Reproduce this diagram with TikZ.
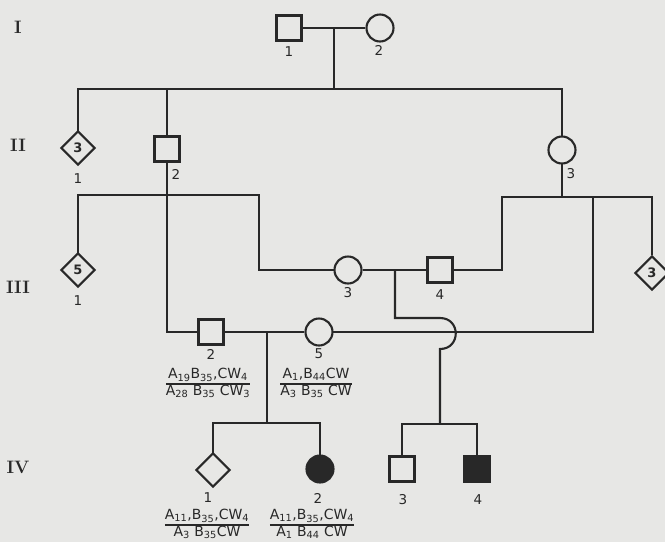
\documentclass[tikz,border=0pt]{standalone}
\usepackage{fontspec}
\setsansfont{DejaVu Sans}
\usetikzlibrary{shapes.geometric}
\definecolor{bg}{RGB}{231,231,229}
\definecolor{ink}{RGB}{40,40,40}
\newcommand\hsub[1]{\textsubscript{#1}}
\setlength\arrayrulewidth{1.4pt}
\begin{document}
\begin{tikzpicture}[x=1pt,y=-1pt,
  ln/.style={draw=ink, line width=2.1pt},
  sq/.style={draw=ink, line width=2.1pt, minimum size=25pt, inner sep=0pt, fill=bg},
  ci/.style={circle, draw=ink, line width=2.1pt, minimum size=27pt, inner sep=0pt, fill=bg},
  di/.style={diamond, draw=ink, line width=2.1pt, minimum size=34pt, inner sep=0pt, fill=bg,
             font=\sffamily\bfseries\fontsize{13}{13}\selectfont, text=ink},
  num/.style={font=\sffamily\fontsize{13.5}{13.5}\selectfont, text=ink, inner sep=1pt},
  gen/.style={font=\bfseries\fontsize{18}{18}\selectfont, text=ink},
  hap/.style={font=\sffamily\fontsize{14}{15}\selectfont, text=ink, inner sep=0pt}]
\fill[bg] (0,0) rectangle (665,542);
\useasboundingbox (0,0) rectangle (665,542);
\clip (0,0) rectangle (665,542);

% generation labels
\node[gen] (gI) at (18,27) {I};
\node[gen] (gII) at (18,145) {II};
\node[gen] (gIII) at (18,287) {III};
\node[gen] (gIV) at (18,467) {IV};

% coordinates for line junctions
\coordinate (m1) at (334,28);
\coordinate (s1) at (334,89);
\coordinate (c1) at (259,195);
\coordinate (c3) at (502,197);
\coordinate (c4) at (593,197);
\coordinate (m3) at (395,270);
\coordinate (h3) at (395,318);
\coordinate (j1) at (440,318);
\coordinate (j2) at (440,349);
\coordinate (s4) at (440,424);
\coordinate (m2) at (267,332);
\coordinate (s3) at (267,423);

% lines (drawn first)
\draw[ln] (m1) -- (s1);
\draw[ln] (78,131) |- (s1) -| (562,136);
\draw[ln] (167,136) -- (167,89);
\draw[ln] (562,163) -- (562,197);
\draw[ln] (78,253) |- (c1) |- (335,270);
\draw[ln] (167,162) |- (198,332);
\draw[ln] (453,270) -| (c3) -| (652,255);
\draw[ln] (332,332) -| (c4);
\draw[ln] (m3) -- (h3) -- (j1) .. controls (461,318) and (461,349) .. (j2) -- (s4);
\draw[ln] (402,457) |- (s4) -| (477,457);
\draw[ln] (m2) -- (s3);
\draw[ln] (213,453) |- (s3) -| (320,456);

% generation I
\node[sq] (I1) at (289,28) {};
\node[ci] (I2) at (380,28) {};
\draw[ln] (I1.east) -- (I2.west);
\node[num] (lI1) at (289,52) {1};
\node[num] (lI2) at (379,50) {2};

% generation II
\node[di] (II1) at (78,148) {3};
\node[sq] (II2) at (167,149) {};
\node[ci] (II3) at (562,150) {};
\node[num] (lII1) at (78,179) {1};
\node[num] (lII2) at (176,174) {2};
\node[num] (lII3) at (571,174) {3};

% generation III
\node[di] (III1) at (78,270) {5};
\node[sq] (III2) at (211,332) {};
\node[ci] (III3) at (348,270) {};
\node[sq] (III4) at (440,270) {};
\node[ci] (III5) at (319,332) {};
\node[di] (IIIx) at (652,273) {3};
\draw[ln] (III3.east) -- (III4.west);
\draw[ln] (III2.east) -- (III5.west);
\node[num] (lIII1) at (78,301) {1};
\node[num] (lIII2) at (211,354) {2};
\node[num] (lIII3) at (348,293) {3};
\node[num] (lIII4) at (440,295) {4};
\node[num] (lIII5) at (319,354) {5};

% haplotypes generation III
\node[hap] (hIII2) at (208,384) {\begin{tabular}{@{}c@{}}A\hsub{19}B\hsub{35},CW\hsub{4}\\\hline A\hsub{28} B\hsub{35} CW\hsub{3}\end{tabular}};
\node[hap] (hIII5) at (316,384) {\begin{tabular}{@{}c@{}}A\hsub{1},B\hsub{44}CW\\\hline A\hsub{3} B\hsub{35} CW\end{tabular}};

% generation IV
\node[di] (IV1) at (213,470) {};
\node[ci, fill=ink] (IV2) at (320,469) {};
\node[sq] (IV3) at (402,469) {};
\node[sq, fill=ink] (IV4) at (477,469) {};
\node[num] (lIV1) at (208,498) {1};
\node[num] (lIV2) at (318,498) {2};
\node[num] (lIV3) at (403,500) {3};
\node[num] (lIV4) at (478,500) {4};

\node[hap] (hIV1) at (207,525) {\begin{tabular}{@{}c@{}}A\hsub{11},B\hsub{35},CW\hsub{4}\\\hline A\hsub{3} B\hsub{35}CW\end{tabular}};
\node[hap] (hIV2) at (312,525) {\begin{tabular}{@{}c@{}}A\hsub{11},B\hsub{35},CW\hsub{4}\\\hline A\hsub{1} B\hsub{44} CW\end{tabular}};
\end{tikzpicture}
\end{document}
